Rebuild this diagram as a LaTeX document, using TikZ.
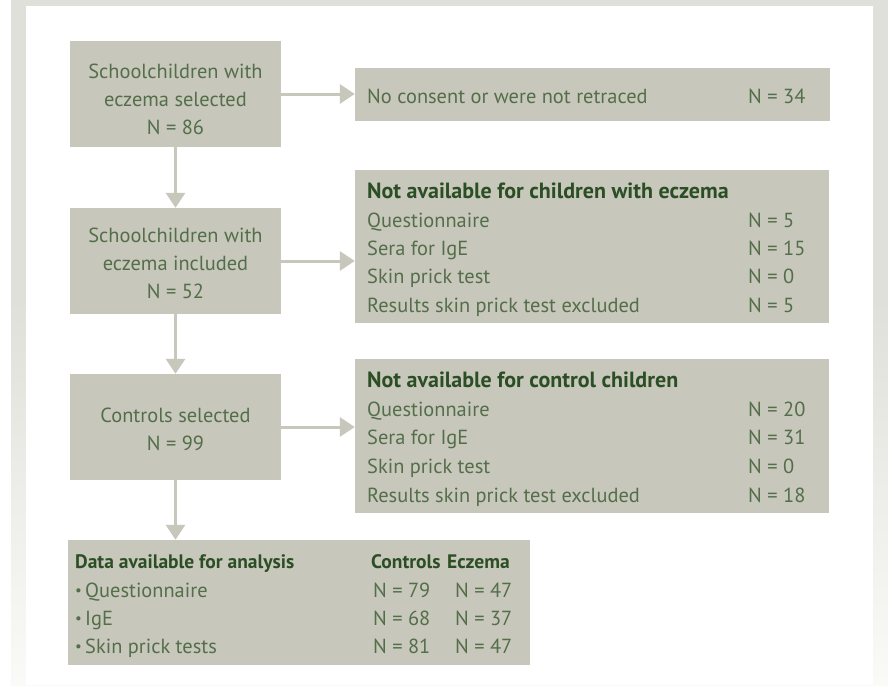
\documentclass[tikz,border=0pt]{standalone}
\usepackage{fontspec}
\setmainfont{PT Sans}
\usetikzlibrary{arrows.meta}
\definecolor{boxc}{RGB}{199,199,187}
\definecolor{framec}{RGB}{224,224,218}
\definecolor{framelt}{RGB}{250,250,248}
\definecolor{textc}{RGB}{84,110,74}
\definecolor{headc}{RGB}{44,78,36}
\tikzset{
  box/.style={fill=boxc, draw=none, inner sep=0pt},
  arr/.style={draw=boxc, line width=3pt, -{Triangle[length=15pt,width=19pt]}},
  txt/.style={anchor=base, inner sep=0pt, text=textc, font=\fontsize{20.4}{24}\selectfont},
  ltxt/.style={txt, anchor=base west},
  bul/.style={ltxt, font=\fontsize{15}{18}\selectfont},
  htxt/.style={ltxt, text=headc, font=\fontsize{22}{26}\selectfont\bfseries},
  dhtxt/.style={ltxt, text=headc, font=\fontsize{19.5}{23}\selectfont\bfseries}
}
\begin{document}
\begin{tikzpicture}[x=1pt,y=-1pt]
\useasboundingbox (0,0) rectangle (888,685);
% frame
\fill[framec] (11,0) rectangle (888,300);
\shade[top color=framec, bottom color=framelt] (11,299.5) rectangle (888,685);
\fill[white] (26,6) rectangle (873,685);
% boxes
\node[box, minimum width=211pt, minimum height=106pt] (b1) at (175.5,94) {};
\node[box, minimum width=475pt, minimum height=53pt] (nc) at (592.5,94.5) {};
\node[box, minimum width=211pt, minimum height=106pt] (b2) at (175.5,261) {};
\node[box, minimum width=474pt, minimum height=153pt] (ecz) at (592,246.5) {};
\node[box, minimum width=211pt, minimum height=106pt] (b3) at (175.5,427) {};
\node[box, minimum width=474pt, minimum height=154pt] (ctl) at (592,436) {};
\node[box, minimum width=462pt, minimum height=125pt] (data) at (299,602.5) {};
% arrows
\draw[arr] (b1.south) -- (b2.north);
\draw[arr] (b2.south) -- (b3.north);
\draw[arr] (b3.south) -- (b3.south |- data.north);
\draw[arr] (b1.east) -- (b1.east -| nc.west);
\draw[arr] (b2.east) -- (b2.east -| ecz.west);
\draw[arr] (b3.east) -- (b3.east -| ctl.west);
% box 1
\node[txt] (t1a) at (175.5,78) {Schoolchildren with};
\node[txt] (t1b) at (175.5,106) {eczema selected};
\node[txt] (t1c) at (175.5,134) {N = 86};
% box 2
\node[txt] (t2a) at (175.5,242) {Schoolchildren with};
\node[txt] (t2b) at (175.5,270) {eczema included};
\node[txt] (t2c) at (175.5,298.5) {N = 52};
% box 3
\node[txt] (t3a) at (175.5,422) {Controls selected};
\node[txt] (t3b) at (175.5,450) {N = 99};
% no consent
\node[ltxt] (nca) at (367,103) {No consent or were not retraced};
\node[ltxt] (ncb) at (748,103) {N = 34};
% eczema box
\node[htxt] (ea) at (367,198) {Not available for children with eczema};
\node[ltxt] (eb) at (367,227) {Questionnaire};
\node[ltxt] (ec) at (367,255) {Sera for IgE};
\node[ltxt] (ed) at (367,283) {Skin prick test};
\node[ltxt] (ee) at (367,312) {Results skin prick test excluded};
\node[ltxt] (ebn) at (748,227) {N = 5};
\node[ltxt] (ecn) at (748,255) {N = 15};
\node[ltxt] (edn) at (748,283) {N = 0};
\node[ltxt] (een) at (748,312) {N = 5};
% control box
\node[htxt] (ca) at (367,387) {Not available for control children};
\node[ltxt] (cb) at (367,416) {Questionnaire};
\node[ltxt] (cc) at (367,444) {Sera for IgE};
\node[ltxt] (cd) at (367,473) {Skin prick test};
\node[ltxt] (ce) at (367,502) {Results skin prick test excluded};
\node[ltxt] (cbn) at (748,416) {N = 20};
\node[ltxt] (ccn) at (748,444) {N = 31};
\node[ltxt] (cdn) at (748,473) {N = 0};
\node[ltxt] (cen) at (748,502) {N = 18};
% data box
\node[dhtxt] (da) at (75,568) {Data available for analysis};
\node[dhtxt] (dac) at (371,568) {Controls};
\node[dhtxt] (dae) at (447,568) {Eczema};
\node[bul] (dbb) at (75,595) {•};
\node[bul] (dcb) at (75,623) {•};
\node[bul] (ddb) at (75,651) {•};
\node[ltxt] (db) at (85,597) {Questionnaire};
\node[ltxt] (dc) at (85,625) {IgE};
\node[ltxt] (dd) at (85,653) {Skin prick tests};
\node[ltxt] (dbc) at (373,597) {N = 79};
\node[ltxt] (dcc) at (373,625) {N = 68};
\node[ltxt] (ddc) at (373,653) {N = 81};
\node[ltxt] (dbe) at (455,597) {N = 47};
\node[ltxt] (dce) at (455,625) {N = 37};
\node[ltxt] (dde) at (455,653) {N = 47};
\end{tikzpicture}
\end{document}
